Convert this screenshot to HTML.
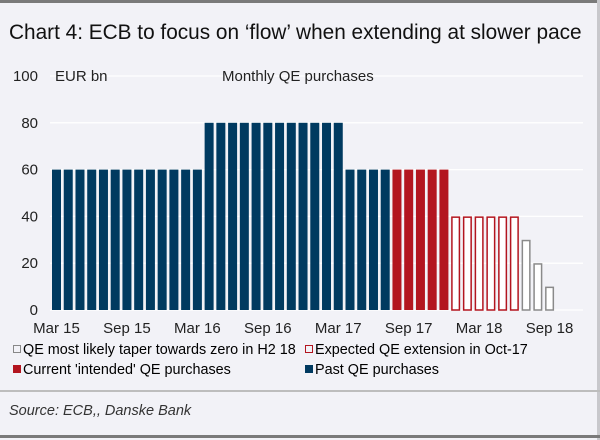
<!DOCTYPE html>
<html><head><meta charset="utf-8"><style>
body{margin:0;background:#fff}
#wrap{position:relative;width:600px;height:440px;background:#f2f2f7;overflow:hidden;font-family:"Liberation Sans",sans-serif;color:#222}
svg text{font-family:"Liberation Sans",sans-serif}
</style></head><body>
<div id="wrap">
<svg id="chart" width="600" height="440">
<rect x="0" y="0" width="600" height="3" fill="#7a7a7a"/>
<rect x="597" y="0" width="3" height="440" fill="#c8c8cc"/>
<text x="9" y="39" font-size="20.8" fill="#111">Chart 4: ECB to focus on ‘flow’ when extending at slower pace</text>
<g id="grid"></g>
<g id="bars"></g>
<g id="xlabels"></g>
<text x="55" y="81" font-size="15" fill="#222">EUR bn</text>
<text x="222" y="81" font-size="15" fill="#222">Monthly QE purchases</text>
<g>
<rect x="13.5" y="345.5" width="7" height="7" fill="none" stroke="#888"/>
<text x="23" y="354" font-size="14.4">QE most likely taper towards zero in H2 18</text>
<rect x="305.5" y="345.5" width="7" height="7" fill="none" stroke="#b3151f"/>
<text x="315" y="354" font-size="14.4">Expected QE extension in Oct-17</text>
<rect x="13" y="365" width="8" height="8" fill="#b3151f"/>
<text x="23" y="374" font-size="14.4">Current 'intended' QE purchases</text>
<rect x="305" y="365" width="8" height="8" fill="#003a60"/>
<text x="315" y="374" font-size="14.4">Past QE purchases</text>
</g>
<rect x="0" y="390" width="600" height="2" fill="#bdbdbd"/>
<text x="9" y="415" font-size="14.5" font-style="italic" fill="#333">Source: ECB,, Danske Bank</text>
<rect x="0" y="435" width="600" height="3" fill="#7a7a7a"/>
</svg>
</div>
<script>
const months=["Mar 15","Apr 15","May 15","Jun 15","Jul 15","Aug 15","Sep 15","Oct 15","Nov 15","Dec 15","Jan 16","Feb 16","Mar 16","Apr 16","May 16","Jun 16","Jul 16","Aug 16","Sep 16","Oct 16","Nov 16","Dec 16","Jan 17","Feb 17","Mar 17","Apr 17","May 17","Jun 17","Jul 17","Aug 17","Sep 17","Oct 17","Nov 17","Dec 17","Jan 18","Feb 18","Mar 18","Apr 18","May 18","Jun 18","Jul 18","Aug 18","Sep 18"];
const values=[60,60,60,60,60,60,60,60,60,60,60,60,60,80,80,80,80,80,80,80,80,80,80,80,80,60,60,60,60,60,60,60,60,60,40,40,40,40,40,40,30,20,10];
const series=["past","past","past","past","past","past","past","past","past","past","past","past","past","past","past","past","past","past","past","past","past","past","past","past","past","past","past","past","past","current","current","current","current","current","extension","extension","extension","extension","extension","extension","taper","taper","taper"];
const yTicks=[0,20,40,60,80,100];
const xTickEvery=6;
const NS="http://www.w3.org/2000/svg";
const x0=52,pitch=11.74,bw=9,yBase=310,yPer=2.34;
const xPos=i=>x0+i*pitch;
const yPos=v=>yBase-v*yPer;
function mk(tag,attrs,parent){const e=document.createElementNS(NS,tag);for(const k in attrs)e.setAttribute(k,attrs[k]);parent.appendChild(e);return e;}
const grid=document.getElementById('grid');
yTicks.forEach(t=>{
  const l=mk('line',{x1:50,x2:583,y1:yPos(t),y2:yPos(t),stroke:'#ffffff','stroke-width':1.3},grid);
  
  
  const tx=mk('text',{x:38,y:yPos(t)+5,'text-anchor':'end','font-size':15,fill:'#222'},grid);
  tx.textContent=t;
  
  
});
const bars=document.getElementById('bars');
const styles={past:{fill:'#003a60',stroke:'none'},current:{fill:'#b3151f',stroke:'none'},extension:{fill:'#ffffff',stroke:'#b3151f'},taper:{fill:'#ffffff',stroke:'#8a8a8a'}};
values.forEach((v,i)=>{
  const s=styles[series[i]];
  const hollow=s.stroke!=='none';
  const x=xPos(i),y=yPos(v);
  const r=mk('rect',hollow?{x:x+0.75,y:y+0.75,width:bw-1.5,height:yBase-y-0.75,fill:s.fill,stroke:s.stroke,'stroke-width':1.5}:{x:x,y:y,width:bw,height:yBase-y,fill:s.fill},bars);
  
  
});
const xl=document.getElementById('xlabels');
months.forEach((m,i)=>{
  if(i%xTickEvery!==0)return;
  const t=mk('text',{x:xPos(i)+bw/2,y:333,'text-anchor':'middle','font-size':15,fill:'#222'},xl);
  t.textContent=m;
  
  
});
</script>
</body></html>
